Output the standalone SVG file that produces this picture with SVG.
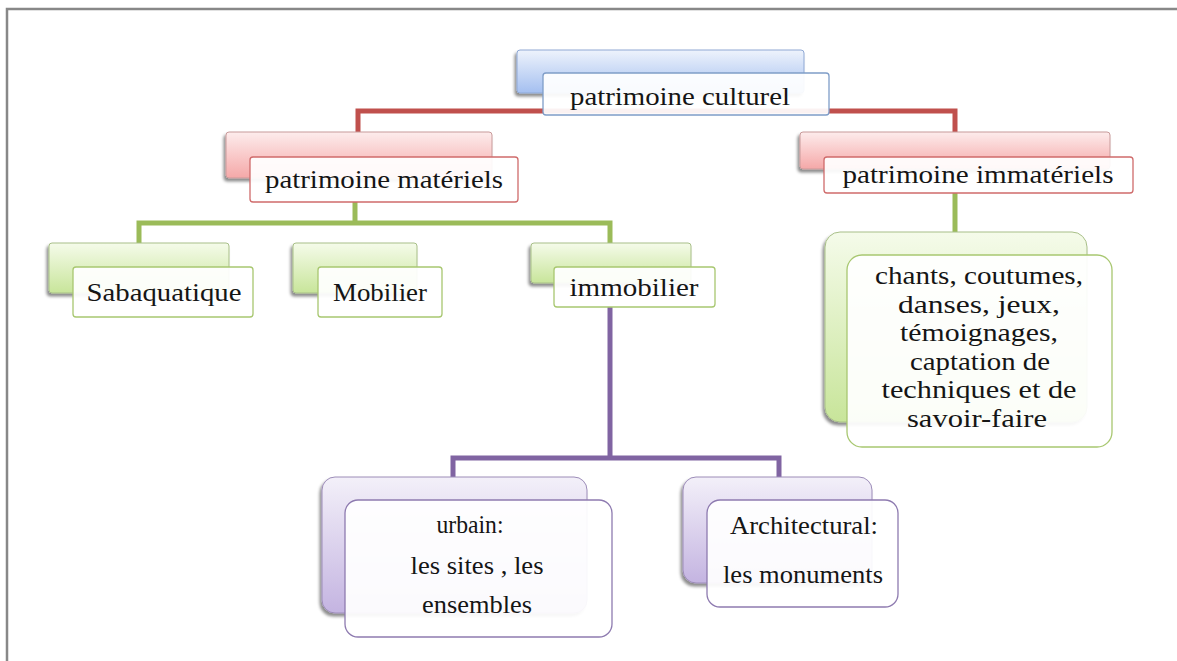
<svg xmlns="http://www.w3.org/2000/svg" width="1177" height="661" viewBox="0 0 1177 661">
<defs>
<linearGradient id="gBlue" x1="0" y1="0" x2="0" y2="1"><stop offset="0" stop-color="#eef3fc"/><stop offset="1" stop-color="#a4bff0"/></linearGradient>
<linearGradient id="gRed" x1="0" y1="0" x2="0" y2="1"><stop offset="0" stop-color="#fdecec"/><stop offset="1" stop-color="#f5a8a8"/></linearGradient>
<linearGradient id="gGreen" x1="0" y1="0" x2="0" y2="1"><stop offset="0" stop-color="#f5fbea"/><stop offset="1" stop-color="#c8e59a"/></linearGradient>
<linearGradient id="gPurple" x1="0" y1="0" x2="0" y2="1"><stop offset="0" stop-color="#f3f0f9"/><stop offset="1" stop-color="#c4b4e1"/></linearGradient>
<filter id="sh" x="-10%" y="-10%" width="120%" height="130%"><feDropShadow dx="-2" dy="3" stdDeviation="1.5" flood-color="#000" flood-opacity="0.45"/></filter>
</defs>
<style>
.t{font-family:'Liberation Serif','DejaVu Serif',serif;font-size:26px;fill:#151515;text-anchor:middle}
.conn{fill:none;stroke-width:5}
.back{filter:url(#sh);stroke-width:1}
.front{fill:#fff;fill-opacity:0.93;stroke-width:1.3}
</style>
<rect x="0" y="0" width="1177" height="661" fill="#fff"/>
<path d="M7,661 V9 H1177" fill="none" stroke="#888" stroke-width="2.5"/>
<g id="connectors">
<path class="conn" stroke="#c0504d" d="M358,133 V111 H955 V133"/>
<path class="conn" stroke="#9bbb59" d="M355,202 V223"/>
<path class="conn" stroke="#9bbb59" d="M139,243 V223 H610 V243"/>
<path class="conn" stroke="#9bbb59" d="M955,193 V233"/>
<path class="conn" stroke="#8064a2" d="M610,307 V458"/>
<path class="conn" stroke="#8064a2" d="M453,478 V458 H779 V478"/>
</g>
<g id="n-culturel">
<rect class="back" x="517" y="50" width="287" height="43" rx="3" fill="url(#gBlue)" stroke="#8fa8d4"/>
<rect class="front" x="543" y="73" width="286" height="42" rx="3" stroke="#7f9dc8"/>
<text class="t" x="680" y="105" textLength="220" lengthAdjust="spacingAndGlyphs">patrimoine culturel</text>
</g>
<g id="n-materiels">
<rect class="back" x="226" y="132" width="266" height="46" rx="3" fill="url(#gRed)" stroke="#c89a9a"/>
<rect class="front" x="250" y="157" width="268" height="45" rx="3" stroke="#cf6b6b"/>
<text class="t" x="384" y="188" textLength="238" lengthAdjust="spacingAndGlyphs">patrimoine matériels</text>
</g>
<g id="n-immateriels">
<rect class="back" x="800" y="132" width="310" height="37" rx="3" fill="url(#gRed)" stroke="#c89a9a"/>
<rect class="front" x="824" y="157" width="309" height="36" rx="3" stroke="#cf6b6b"/>
<text class="t" x="978" y="183" textLength="271" lengthAdjust="spacingAndGlyphs">patrimoine immatériels</text>
</g>
<g id="n-sabaquatique">
<rect class="back" x="49" y="243" width="180" height="50" rx="3" fill="url(#gGreen)" stroke="#a8bf88"/>
<rect class="front" x="73" y="267" width="180" height="50" rx="3" stroke="#a8c770"/>
<text class="t" x="164" y="301" textLength="155" lengthAdjust="spacingAndGlyphs">Sabaquatique</text>
</g>
<g id="n-mobilier">
<rect class="back" x="293" y="243" width="124" height="50" rx="3" fill="url(#gGreen)" stroke="#a8bf88"/>
<rect class="front" x="318" y="267" width="124" height="50" rx="3" stroke="#a8c770"/>
<text class="t" x="380" y="301" textLength="94" lengthAdjust="spacingAndGlyphs">Mobilier</text>
</g>
<g id="n-immobilier">
<rect class="back" x="531" y="243" width="160" height="40" rx="3" fill="url(#gGreen)" stroke="#a8bf88"/>
<rect class="front" x="554" y="267" width="161" height="40" rx="3" stroke="#a8c770"/>
<text class="t" x="634" y="296" textLength="129" lengthAdjust="spacingAndGlyphs">immobilier</text>
</g>
<g id="n-chants">
<rect class="back" x="825" y="232" width="262" height="190" rx="15" fill="url(#gGreen)" stroke="#a8bf88"/>
<rect class="front" x="847" y="255" width="265" height="192" rx="15" stroke="#a8c770"/>
<text class="t" x="979" y="284" textLength="208" lengthAdjust="spacingAndGlyphs">chants, coutumes,</text>
<text class="t" x="979" y="313" textLength="162" lengthAdjust="spacingAndGlyphs">danses, jeux,</text>
<text class="t" x="979" y="341" textLength="158" lengthAdjust="spacingAndGlyphs">témoignages,</text>
<text class="t" x="980" y="370" textLength="140" lengthAdjust="spacingAndGlyphs">captation de</text>
<text class="t" x="979" y="398" textLength="195" lengthAdjust="spacingAndGlyphs">techniques et de</text>
<text class="t" x="977" y="427" textLength="140" lengthAdjust="spacingAndGlyphs">savoir-faire</text>
</g>
<g id="n-urbain">
<rect class="back" x="322" y="477" width="265" height="136" rx="13" fill="url(#gPurple)" stroke="#9c8cb8"/>
<rect class="front" x="345" y="500" width="267" height="137" rx="13" stroke="#8e7bb0"/>
<text class="t" x="470" y="533" textLength="67" lengthAdjust="spacingAndGlyphs">urbain:</text>
<text class="t" x="477" y="574" textLength="133" lengthAdjust="spacingAndGlyphs">les sites , les</text>
<text class="t" x="477" y="613" textLength="110" lengthAdjust="spacingAndGlyphs">ensembles</text>
</g>
<g id="n-architectural">
<rect class="back" x="683" y="477" width="189" height="106" rx="13" fill="url(#gPurple)" stroke="#9c8cb8"/>
<rect class="front" x="707" y="500" width="191" height="107" rx="13" stroke="#8e7bb0"/>
<text class="t" x="804" y="534" textLength="148" lengthAdjust="spacingAndGlyphs">Architectural:</text>
<text class="t" x="803" y="583" textLength="160" lengthAdjust="spacingAndGlyphs">les monuments</text>
</g>
</svg>
